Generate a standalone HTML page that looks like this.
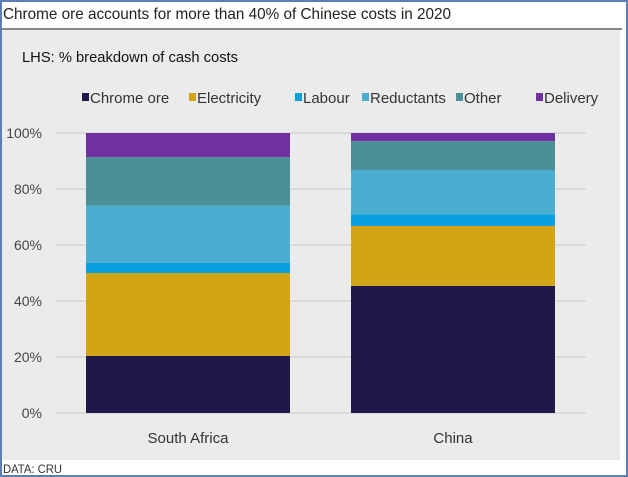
<!DOCTYPE html>
<html><head><meta charset="utf-8"><style>
body{margin:0;width:628px;height:477px;overflow:hidden;background:#fff;font-family:"Liberation Sans",sans-serif}
#frame{position:absolute;left:0;top:0;width:624px;height:473px;border:2px solid #5b7fb5;background:#fff}
</style></head><body>
<div id="frame"></div>
<svg width="628" height="477" style="position:absolute;left:0;top:0">
<rect x="2" y="30" width="618" height="430" fill="#ebebeb"/>
<line x1="2" y1="29" x2="622" y2="29" stroke="#888" stroke-width="2"/>
<text x="3" y="19" font-size="16" fill="#222" textLength="448" lengthAdjust="spacingAndGlyphs">Chrome ore accounts for more than 40% of Chinese costs in 2020</text>
<text x="22" y="62" font-size="15" fill="#111" textLength="216" lengthAdjust="spacingAndGlyphs">LHS: % breakdown of cash costs</text>
<text x="3" y="473" font-size="12" fill="#333" textLength="59" lengthAdjust="spacingAndGlyphs">DATA: CRU</text>
<g id="grid"></g><g id="bars"></g><g id="legend"></g>
</svg>
<script>
const categories=["South Africa","China"];
const seriesNames=["Chrome ore","Electricity","Labour","Reductants","Other","Delivery"];
const chromeOre=[20.4,45.4];
const electricity=[29.6,21.4];
const labour=[3.6,4.2];
const reductants=[20.4,15.8];
const other=[17.4,10.3];
const delivery=[8.6,2.9];
const yTicks=[0,20,40,60,80,100];
const tickLabels=["0%","20%","40%","60%","80%","100%"];
const colors=["#201848","#d4a417","#0aa0e0","#4aaed0","#4b8f98","#7030a0"];
const series=[chromeOre,electricity,labour,reductants,other,delivery];
const NS="http://www.w3.org/2000/svg";
const y=v=>413-v*2.8;
const xC=i=>188+i*265;
function mk(t,a,p){const e=document.createElementNS(NS,t);for(const k in a)e.setAttribute(k,a[k]);p.appendChild(e);return e;}
const grid=document.getElementById('grid');
yTicks.forEach((v,i)=>{
 const l=mk('line',{x1:55,x2:586,y1:y(v),y2:y(v),stroke:'#c8c8c8','stroke-width':1},grid);
 
 
 const t=mk('text',{x:42,y:y(v)+5,'font-size':14,fill:'#444','text-anchor':'end'},grid);
 t.textContent=tickLabels[i];
 
 
});
const bars=document.getElementById('bars');
categories.forEach((c,i)=>{
 let acc=0;
 series.forEach((s,j)=>{
  const r=mk('rect',{x:xC(i)-102,width:204,y:y(acc+s[i]),height:s[i]*2.8,fill:colors[j]},bars);
  
  
  acc+=s[i];
 });
 const t=mk('text',{x:xC(i),y:443,'font-size':15,fill:'#333','text-anchor':'middle'},bars);
 t.textContent=c;
 
 
});
const leg=document.getElementById('legend');
const lx=[82,189,295,362,456,536];
seriesNames.forEach((n,j)=>{
 const r=mk('rect',{x:lx[j],y:93,width:7,height:8,fill:colors[j]},leg);
 
 
 const t=mk('text',{x:lx[j]+8,y:103,'font-size':15,fill:'#333'},leg);
 t.textContent=n;
 
 
});
</script>
</body></html>
